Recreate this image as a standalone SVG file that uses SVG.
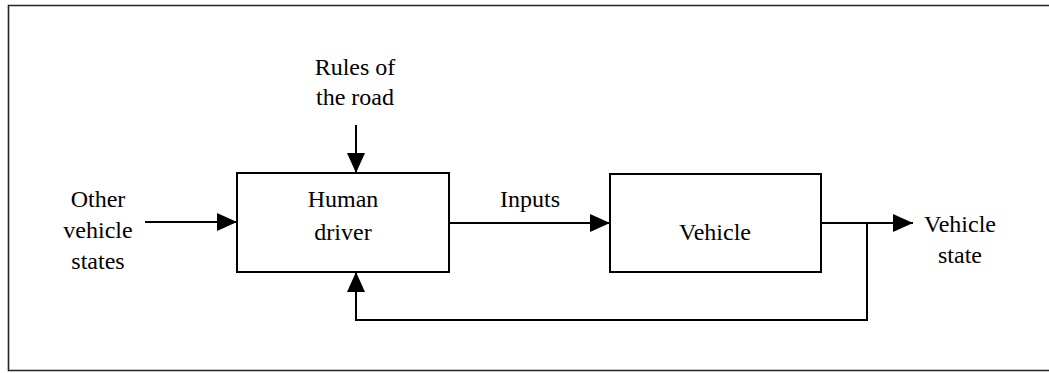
<svg xmlns="http://www.w3.org/2000/svg" width="1049" height="373" viewBox="0 0 1049 373">
  <style>
    .box { fill: none; stroke: #000; stroke-width: 2; }
    .wire { fill: none; stroke: #000; stroke-width: 2; }
    .frame { fill: none; stroke: #222; stroke-width: 1.6; }
  </style>
  <defs>
    <marker id="arrow" viewBox="0 0 20 18" refX="20" refY="9" markerWidth="20" markerHeight="18" markerUnits="userSpaceOnUse" orient="auto">
      <path d="M0,0 L20,9 L0,18 Z" fill="#000"/>
    </marker>
  </defs>
  <rect width="1049" height="373" fill="#fff"/>

  <!-- outer frame: top, left and bottom edges, open on the right -->
  <path class="frame" d="M1049,5.5 H8.5 V370.5 H1049"/>

  <g id="connectors">
    <line class="wire" x1="145" y1="222" x2="237" y2="222" marker-end="url(#arrow)"/>
    <line class="wire" x1="356" y1="125" x2="356" y2="173" marker-end="url(#arrow)"/>
    <line class="wire" x1="449" y1="223" x2="610" y2="223" marker-end="url(#arrow)"/>
    <line class="wire" x1="821" y1="223" x2="913" y2="223" marker-end="url(#arrow)"/>
    <path class="wire" d="M867,223 V320 H356 V272" marker-end="url(#arrow)"/>
  </g>

  <g font-family="Liberation Serif, serif" font-size="24" fill="#000" text-anchor="middle">
    <g id="other-vehicle-states">
      <text x="98" y="207">Other</text>
      <text x="98" y="238">vehicle</text>
      <text x="98" y="269">states</text>
    </g>

    <g id="rules-of-the-road">
      <text x="355" y="75">Rules of</text>
      <text x="355" y="105">the road</text>
    </g>

    <g id="human-driver">
      <rect class="box" x="237" y="173" width="212" height="99"/>
      <text x="343" y="207">Human</text>
      <text x="343" y="240">driver</text>
    </g>

    <g id="inputs-label">
      <text x="530" y="207">Inputs</text>
    </g>

    <g id="vehicle">
      <rect class="box" x="610" y="174" width="211" height="98"/>
      <text x="715" y="240">Vehicle</text>
    </g>

    <g id="vehicle-state">
      <text x="960" y="232">Vehicle</text>
      <text x="960" y="263">state</text>
    </g>
  </g>
</svg>
